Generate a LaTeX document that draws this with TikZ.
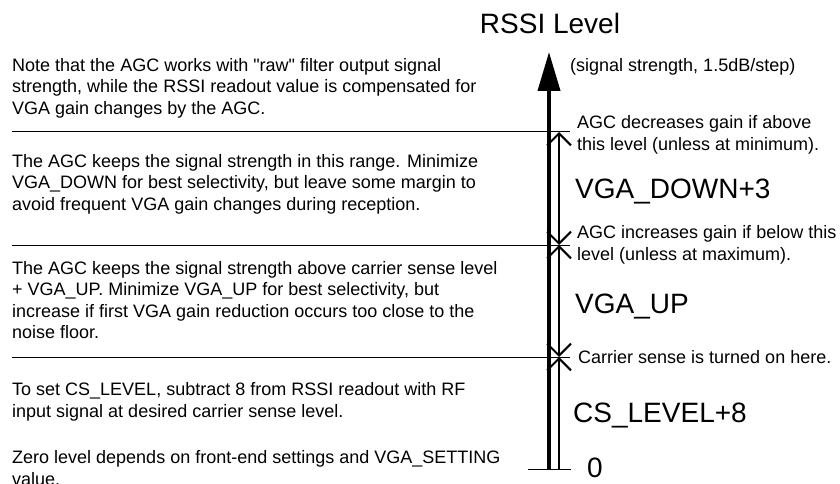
\documentclass[tikz,border=0pt]{standalone}
\usepackage{fontspec}
\setmainfont{Liberation Sans}
\usetikzlibrary{arrows.meta,positioning,calc}
\tikzset{
  note/.style={anchor=west, align=left, inner sep=0pt, font=\fontsize{18}{21.5}\selectfont},
  lvl/.style={anchor=base west, inner sep=0pt, font=\fontsize{28}{32}\selectfont},
  sepline/.style={line width=1pt},
  band/.style={line width=2pt, {Straight Barb[length=12pt,width=24pt]}-{Straight Barb[length=12pt,width=24pt]}},
}
\begin{document}
\begin{tikzpicture}[x=1pt, y=-1pt]
    \useasboundingbox (0,0) rectangle (840,484);
    \coordinate (axbot) at (549,469);
    \coordinate (axtip) at (549,52);
    \coordinate (top) at (559,132);
    \coordinate (mid) at (559,245);
    \coordinate (cs) at (559,357);
    \coordinate (zero) at (559,469);
    \node[lvl, anchor=base] (title) at (550,34) {RSSI Level};
    \draw[line width=4pt, -{Triangle[length=39pt,width=22pt]}] (axbot) -- (axtip);
    \foreach \y in {132,245,357}
      \draw[sepline] (12,\y) -- (570,\y);
    \draw[sepline] (528,469) -- (571,469);
    \draw[band] (top) -- (mid);
    \draw[band] (mid) -- (cs);
    \draw[line width=2pt, -{Straight Barb[length=12pt,width=24pt]}] (zero) -- (cs);
    \node[note] (unit) at (570,67) {(signal strength, 1.5dB/step)};
    \node[note] (dec) at (577,135) {AGC decreases gain if above\\this level (unless at minimum).};
    \node[lvl] (down) at (575,198) {VGA\_DOWN+3};
    \node[note] (inc) at (577,245) {AGC increases gain if below this\\level (unless at maximum).};
    \node[lvl] (up) at (575,313) {VGA\_UP};
    \node[note] (csnote) at (578,357) {Carrier sense is turned on here.};
    \node[lvl] (cslvl) at (573,422) {CS\_LEVEL+8};
    \node[lvl] (zlvl) at (587,477) {0};
    \node[note] (raw) at (12,88)
      {Note that the AGC works with \textquotedbl raw\textquotedbl{} filter output signal\\strength, while the RSSI readout value is compensated for\\VGA gain changes by the AGC.};
    \node[note] (range) at (12,184)
      {The AGC keeps the signal strength in this range. Minimize\\VGA\_DOWN for best selectivity, but leave some margin to\\avoid frequent VGA gain changes during reception.};
    \node[note] (above) at (12,300)
      {The AGC keeps the signal strength above carrier sense level\\+ VGA\_UP. Minimize VGA\_UP for best selectivity, but\\increase if first VGA gain reduction occurs too close to the\\noise floor.};
    \node[note] (cs8) at (12,402)
      {To set CS\_LEVEL, subtract 8 from RSSI readout with RF\\input signal at desired carrier sense level.};
    \node[note] (zeronote) at (12,468)
      {Zero level depends on front-end settings and VGA\_SETTING\\value.};
  \end{tikzpicture}
\end{document}
